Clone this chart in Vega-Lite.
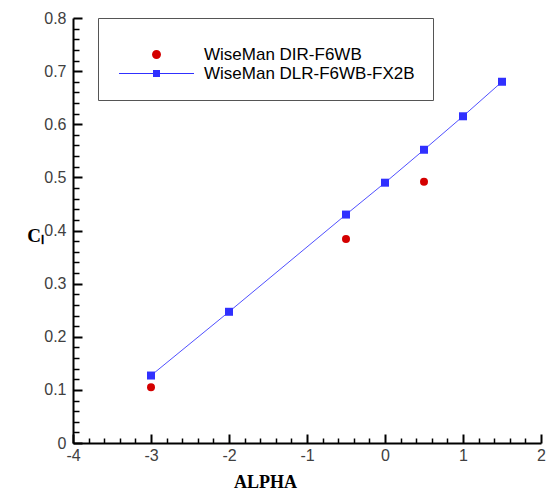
{
  "$schema": "https://vega.github.io/schema/vega-lite/v6.json",
  "width": 468,
  "height": 425,
  "autosize": "none",
  "padding": {"left": 73, "top": 18, "right": 10, "bottom": 50},
  "config": {"view": {"stroke": null}},
  "data": {
    "values": [
      {"series": "WiseMan DIR-F6WB", "alpha": -3, "cl": 0.105},
      {"series": "WiseMan DIR-F6WB", "alpha": -0.5, "cl": 0.384},
      {"series": "WiseMan DIR-F6WB", "alpha": 0.5, "cl": 0.492},
      {"series": "WiseMan DLR-F6WB-FX2B", "alpha": -3, "cl": 0.127},
      {"series": "WiseMan DLR-F6WB-FX2B", "alpha": -2, "cl": 0.247},
      {"series": "WiseMan DLR-F6WB-FX2B", "alpha": -0.5, "cl": 0.43},
      {"series": "WiseMan DLR-F6WB-FX2B", "alpha": 0, "cl": 0.49},
      {"series": "WiseMan DLR-F6WB-FX2B", "alpha": 0.5, "cl": 0.552},
      {"series": "WiseMan DLR-F6WB-FX2B", "alpha": 1, "cl": 0.615},
      {"series": "WiseMan DLR-F6WB-FX2B", "alpha": 1.5, "cl": 0.68}
    ]
  },
  "resolve": {"axis": {"x": "independent", "y": "independent"}},
  "layer": [
    {
      "transform": [{"filter": "datum.series == 'WiseMan DLR-F6WB-FX2B'"}],
      "mark": {"type": "line", "color": "#5050ff", "strokeWidth": 1},
      "encoding": {
        "x": {
          "field": "alpha", "type": "quantitative",
          "scale": {"domain": [-4, 2], "nice": false, "zero": false},
          "axis": {
            "orient": "bottom",
            "values": [-4, -3, -2, -1, 0, 1, 2],
            "labelExpr": "'' + round(datum.value)",
            "ticks": false,
            "domainColor": "black",
            "domainWidth": 2,
            "grid": false,
            "labelFont": "Liberation Sans",
            "labelFontSize": 16,
            "labelColor": "#404040",
            "labelPadding": 4,
            "labelFlush": false,
            "labelOverlap": false,
            "labelBound": false,
            "title": "ALPHA",
            "titleFont": "Liberation Serif",
            "titleFontSize": 18,
            "titleFontWeight": "bold",
            "titleColor": "black",
            "titleX": 192,
            "titleY": 39,
            "titleAlign": "center",
            "titleBaseline": "middle"
          }
        },
        "y": {
          "field": "cl", "type": "quantitative",
          "scale": {"domain": [0, 0.8], "nice": false, "zero": false},
          "axis": {
            "orient": "left",
            "values": [0, 0.1, 0.2, 0.3, 0.4, 0.5, 0.6, 0.7, 0.8],
            "labelExpr": "datum.value == 0 ? '0' : format(datum.value, '.1f')",
            "ticks": false,
            "domainColor": "black",
            "domainWidth": 2,
            "grid": false,
            "labelFont": "Liberation Sans",
            "labelFontSize": 16,
            "labelColor": "#404040",
            "labelPadding": 7,
            "labelFlush": false,
            "labelOverlap": false,
            "labelBound": false,
            "title": "Cₗ",
            "titleFont": "Liberation Serif",
            "titleFontSize": 19,
            "titleFontWeight": "bold",
            "titleColor": "black",
            "titleAngle": 0,
            "titleX": -38,
            "titleY": 217,
            "titleAlign": "center",
            "titleBaseline": "middle"
          }
        }
      }
    },
    {
      "mark": {"type": "point", "filled": true, "opacity": 1, "size": 64},
      "encoding": {
        "x": {
          "field": "alpha", "type": "quantitative",
          "axis": {
            "orient": "bottom",
            "values": [-4, -3, -2, -1, 0, 1, 2],
            "tickSize": 9,
            "offset": -9,
            "tickWidth": 2,
            "tickColor": "black",
            "domain": false,
            "labels": false,
            "grid": false,
            "title": null
          }
        },
        "y": {
          "field": "cl", "type": "quantitative",
          "axis": {
            "orient": "left",
            "values": [0, 0.1, 0.2, 0.3, 0.4, 0.5, 0.6, 0.7, 0.8],
            "tickSize": 9,
            "offset": -9,
            "tickWidth": 2,
            "tickColor": "black",
            "domain": false,
            "labels": false,
            "grid": false,
            "title": null
          }
        },
        "color": {
          "condition": {"test": "datum.series == 'WiseMan DIR-F6WB'", "value": "#d40000"},
          "value": "#3030ff"
        },
        "shape": {
          "condition": {"test": "datum.series == 'WiseMan DIR-F6WB'", "value": "circle"},
          "value": "square"
        }
      }
    },
    {
      "transform": [{"filter": "false"}],
      "mark": {"type": "point", "filled": true, "opacity": 1, "size": 64},
      "encoding": {
        "x": {
          "field": "alpha", "type": "quantitative",
          "axis": {
            "orient": "bottom",
            "values": [-3.8,-3.6,-3.4,-3.2,-2.8,-2.6,-2.4,-2.2,-1.8,-1.6,-1.4,-1.2,-0.8,-0.6,-0.4,-0.2,0.2,0.4,0.6,0.8,1.2,1.4,1.6,1.8],
            "tickSize": 5,
            "offset": -5,
            "tickWidth": 1.5,
            "tickColor": "black",
            "domain": false,
            "labels": false,
            "grid": false,
            "title": null
          }
        },
        "y": {
          "field": "cl", "type": "quantitative",
          "axis": {
            "orient": "left",
            "values": [0.02,0.04,0.06,0.08,0.12,0.14,0.16,0.18,0.22,0.24,0.26,0.28,0.32,0.34,0.36,0.38,0.42,0.44,0.46,0.48,0.52,0.54,0.56,0.58,0.62,0.64,0.66,0.68,0.72,0.74,0.76,0.78],
            "tickSize": 6,
            "offset": -6,
            "tickWidth": 1.5,
            "tickColor": "black",
            "domain": false,
            "labels": false,
            "grid": false,
            "title": null
          }
        },
        "color": {
          "field": "series", "type": "nominal",
          "scale": {"domain": ["WiseMan DIR-F6WB", "WiseMan DLR-F6WB-FX2B"], "range": ["#d40000", "#3030ff"]},
          "legend": {
            "title": " ",
            "titleFontSize": 8,
            "titlePadding": 2,
            "orient": "none",
            "legendX": 25,
            "legendY": 0,
            "padding": 18,
            "strokeColor": "#555555",
            "symbolSize": 64,
            "symbolStrokeWidth": 0,
            "symbolOffset": 32,
            "labelOffset": 39,
            "labelFont": "Liberation Sans",
            "labelFontSize": 17,
            "labelColor": "black",
            "labelLimit": 400,
            "rowPadding": 1
          }
        },
        "shape": {
          "field": "series", "type": "nominal",
          "scale": {
            "domain": ["WiseMan DIR-F6WB", "WiseMan DLR-F6WB-FX2B"],
            "range": [
              "M-1.125,0A1.125,1.125,0,1,1,1.125,0A1.125,1.125,0,1,1,-1.125,0Z",
              "M-9.375,-0.125H9.375V0.125H-9.375ZM-0.875,-0.875H0.875V0.875H-0.875Z"
            ]
          }
        }
      }
    }
  ]
}
